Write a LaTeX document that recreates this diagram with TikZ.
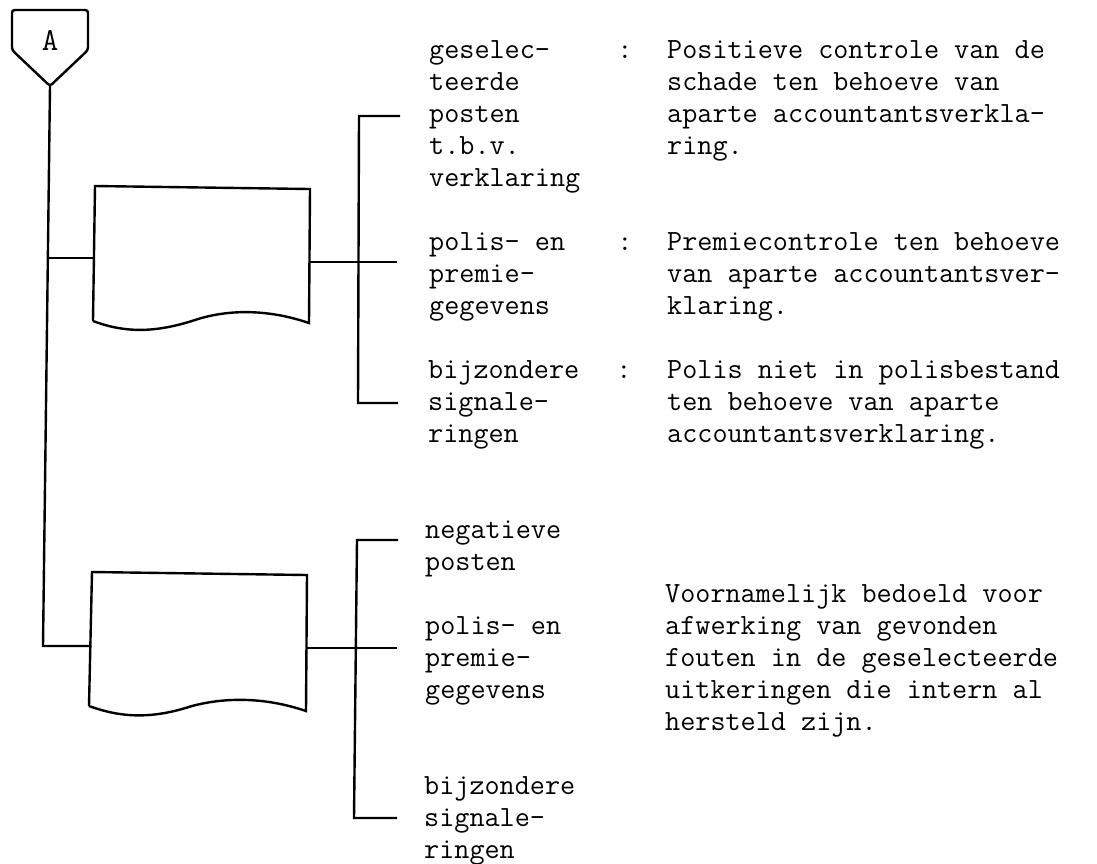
\documentclass[tikz,border=0pt]{standalone}
\usepackage{fontspec}
\usetikzlibrary{positioning}

\begin{document}
\begin{tikzpicture}[x=0.375pt, y=-0.375pt, line width=0.9pt,
  txt/.style={font=\ttfamily\fontsize{11}{12}\selectfont, align=left, inner sep=0pt, anchor=base west},
  lbl/.style={font=\ttfamily\fontsize{11}{12}\selectfont, inner sep=0pt, anchor=base}]
\useasboundingbox (0,0) rectangle (1097,863);
% connector symbol
\draw[rounded corners=1pt] (12,10) -- (88,10) -- (88,50) -- (50,86) -- (12,50) -- cycle;
\node[lbl, font=\ttfamily\fontsize{12}{12}\selectfont] (A) at (50,50) {A};
\coordinate (Atip) at (50,86);
\coordinate (m1) at (48,258);
\coordinate (m2) at (43,646);
% first document
\coordinate (d1nw) at (95,186); \coordinate (d1ne) at (310,189);
\coordinate (d1se) at (309,323); \coordinate (d1sw) at (93,321);
\coordinate (d1w) at (94,258); \coordinate (d1e) at (310,262);
\draw (d1sw) -- (d1nw) -- (d1ne) -- (d1se)
  .. controls (265,308) and (225,310) .. (195,320)
  .. controls (155,333) and (125,333) .. (d1sw);
% second document
\coordinate (d2nw) at (92,572); \coordinate (d2ne) at (307,575);
\coordinate (d2se) at (306,711); \coordinate (d2sw) at (89,706);
\coordinate (d2w) at (90,646); \coordinate (d2e) at (307,648);
\draw (d2sw) -- (d2nw) -- (d2ne) -- (d2se)
  .. controls (262,696) and (222,698) .. (192,706)
  .. controls (152,719) and (122,718) .. (d2sw);
% flow line
\draw (Atip) -- (m2) -- (d2w);
\draw (m1) -- (d1w);
% brackets
\coordinate (b1t) at (400,116); \coordinate (b1tc) at (359,116);
\coordinate (b1bc) at (358,403); \coordinate (b1b) at (398,403);
\coordinate (b1r) at (397,262);
\draw (b1t) -- (b1tc) -- (b1bc) -- (b1b);
\draw (d1e) -- (b1r);
\coordinate (b2t) at (398,540); \coordinate (b2tc) at (357,540);
\coordinate (b2bc) at (354,818); \coordinate (b2b) at (397,818);
\coordinate (b2r) at (397,648);
\draw (b2t) -- (b2tc) -- (b2bc) -- (b2b);
\draw (d2e) -- (b2r);
% outputs (base = last line)
\node[txt] (sel) at (428,186) {geselec-\\teerde\\posten\\t.b.v.\\verklaring};
\node[txt] (pol1) at (428,314) {polis- en\\premie-\\gegevens};
\node[txt] (bij1) at (427,442) {bijzondere\\signale-\\ringen};
\node[txt] (neg) at (424,570) {negatieve\\posten};
\node[txt] (pol2) at (424,698) {polis- en\\premie-\\gegevens};
\node[txt] (bij2) at (423,858) {bijzondere\\signale-\\ringen};
\node[lbl] (c1) at (625,58) {:};
\node[lbl] (c2) at (625,250) {:};
\node[lbl] (c3) at (624,378) {:};
% remarks
\node[txt] (pos) at (666,154) {Positieve controle van de\\schade ten behoeve van\\aparte accountantsverkla-\\ring.};
\node[txt] (prem) at (666,314) {Premiecontrole ten behoeve\\van aparte accountantsver-\\klaring.};
\node[txt] (niet) at (666,442) {Polis niet in polisbestand\\ten behoeve van aparte\\accountantsverklaring.};
\node[txt] (voor) at (664,730) {Voornamelijk bedoeld voor\\afwerking van gevonden\\fouten in de geselecteerde\\uitkeringen die intern al\\hersteld zijn.};
\end{tikzpicture}
\end{document}
